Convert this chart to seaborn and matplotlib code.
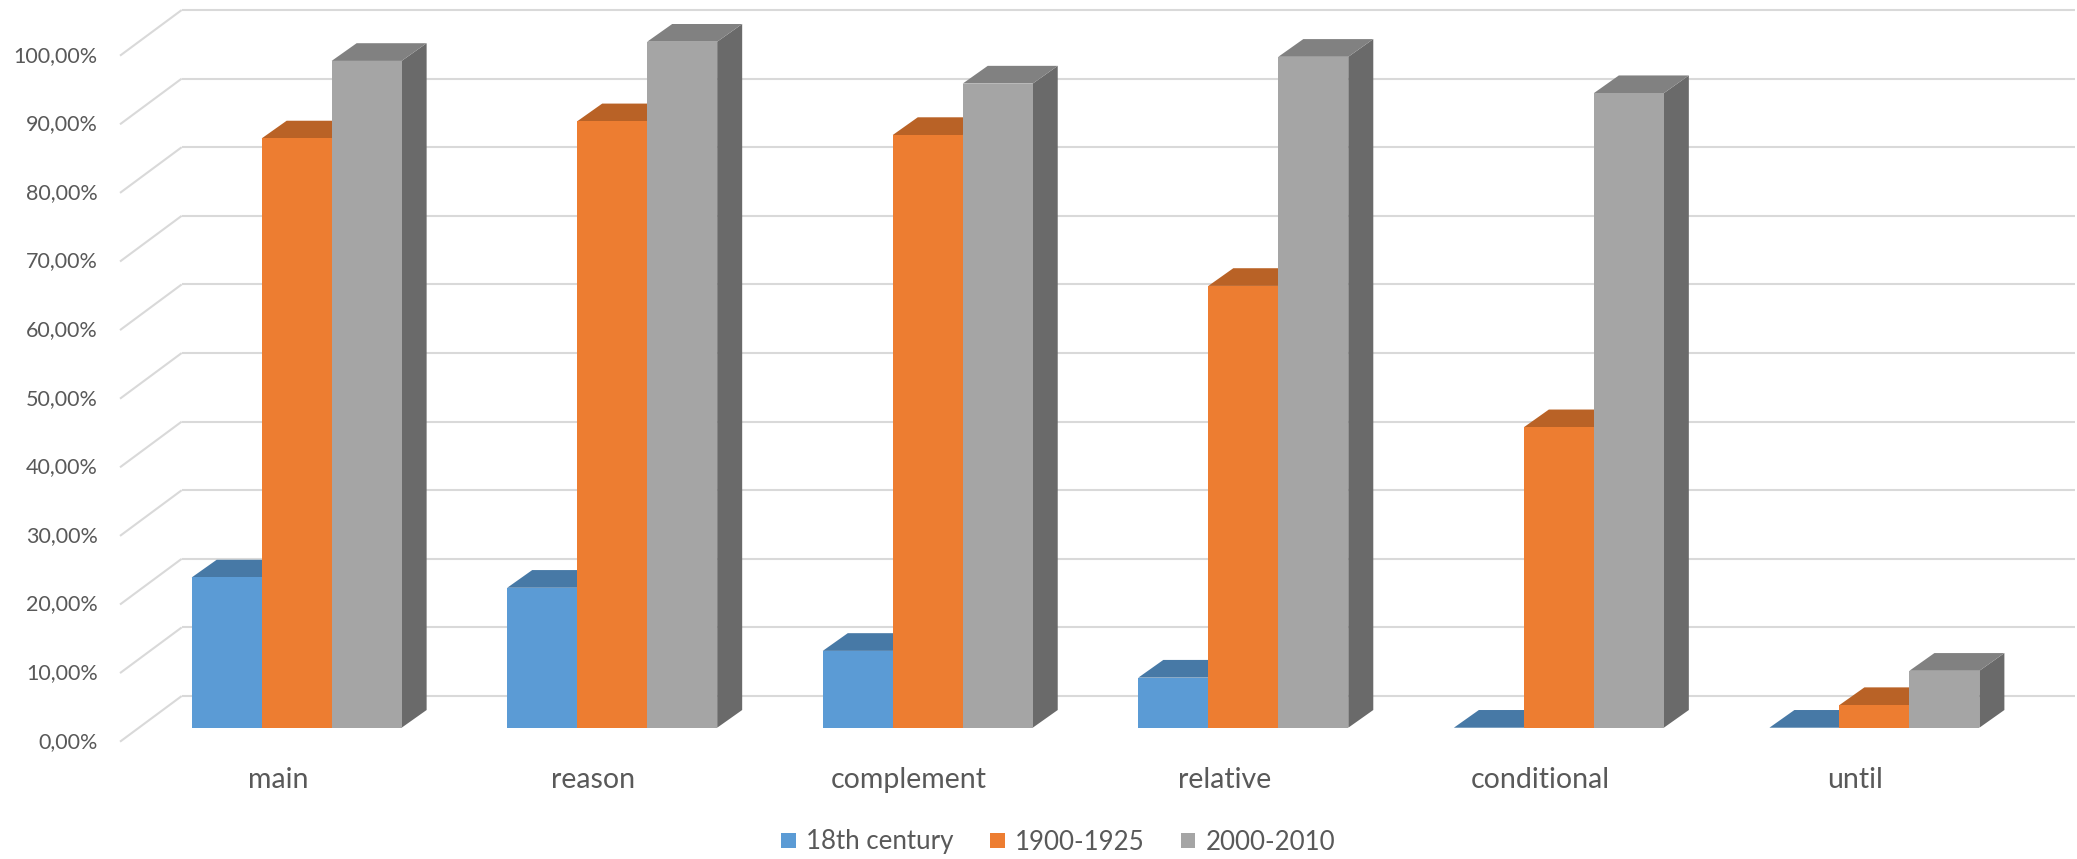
import numpy as np
import pandas as pd
import matplotlib
matplotlib.use("Agg")
import matplotlib.pyplot as plt
from matplotlib.patches import Polygon
import seaborn as sns

# ---- data -------------------------------------------------------------
clauses = ["main", "reason", "complement", "relative", "conditional", "until"]
periods = ["18th century", "1900-1925", "2000-2010"]
share_18th = [21.9, 20.4, 11.2, 7.3, 0.0, 0.0]
share_1900 = [85.9, 88.4, 86.4, 64.4, 43.8, 3.3]
share_2000 = [97.2, 100.0, 93.9, 97.8, 92.5, 8.3]
y_ticks = list(range(0, 101, 10))

colors = ["#5B9BD5", "#ED7D31", "#A5A5A5"]

# ---- style --------------------------------------------------------------
sns.set_theme(style="white")
plt.rcParams["font.family"] = ["Lato", "DejaVu Sans"]
TXT = "#595959"
GRID = "#D9D9D9"

df = pd.DataFrame({
    "clause": clauses * 3,
    "period": np.repeat(periods, len(clauses)),
    "share": share_18th + share_1900 + share_2000,
})

fig = plt.figure(figsize=(20.77, 8.59), dpi=100)
ax = fig.add_axes([0.05778, 0.13655, 0.94126, 0.85181])

sns.barplot(data=df, x="clause", y="share", hue="period", order=clauses,
            hue_order=periods, palette=colors, saturation=1, width=0.6654,
            gap=0, linewidth=0, ax=ax, zorder=3)

# oblique projection of the depth axis (category units, percent units)
FLOOR_DX, FLOOR_DY = 0.1955, 6.66     # full floor depth
FRONT_DX, FRONT_DY = 0.0598, 2.04     # floor front -> bar front
BAR_DX, BAR_DY = 0.0792, 2.58         # depth of one bar
x_left = -0.5 - FRONT_DX
x_right = len(clauses) - 0.5 + FLOOR_DX - FRONT_DX

ax.set_xlim(x_left, x_right)
ax.set_ylim(-FRONT_DY, 100 + FLOOR_DY - FRONT_DY + 0.001)

# back wall and side wall gridlines
back_x0 = x_left + FLOOR_DX
for v in y_ticks:
    yb = v + FLOOR_DY - FRONT_DY
    ax.plot([x_left, back_x0], [v - FRONT_DY, yb], color=GRID, lw=1.5,
            zorder=0.5, clip_on=False, solid_capstyle="butt")
    ax.plot([back_x0, x_right], [yb, yb], color=GRID, lw=1.5,
            zorder=0.5, clip_on=False, solid_capstyle="butt")
    ax.text(x_left - 0.07, v - FRONT_DY, f"{v:.2f}".replace(".", ",") + "%",
            ha="right", va="center", fontsize=15.5, color=TXT)

# category labels at the floor front edge
for i, name in enumerate(clauses):
    ax.text(i - FRONT_DX, -7.62, name, ha="center", va="center",
            fontsize=20.5, color=TXT, clip_on=False)


def shade(hex_color, f):
    r, g, b = matplotlib.colors.to_rgb(hex_color)
    return (r * f, g * f, b * f)


# top and side faces for each bar front drawn by seaborn
for k, cont in enumerate(ax.containers):
    for i, rect in enumerate(cont.patches):
        x, w, h = rect.get_x(), rect.get_width(), rect.get_height()
        order = 2 + (i * 3 + k) * 0.01
        rect.set_zorder(order + 0.005)
        base = colors[k]
        top = [(x, h), (x + w, h), (x + w + BAR_DX, h + BAR_DY), (x + BAR_DX, h + BAR_DY)]
        side = [(x + w, 0), (x + w + BAR_DX, BAR_DY), (x + w + BAR_DX, h + BAR_DY), (x + w, h)]
        ax.add_patch(Polygon(side, closed=True, facecolor=shade(base, 0.64),
                             edgecolor="none", zorder=order))
        ax.add_patch(Polygon(top, closed=True, facecolor=shade(base, 0.78),
                             edgecolor="none", zorder=order + 0.002))

ax.set_xticks([])
ax.set_yticks([])
ax.set_xlabel("")
ax.set_ylabel("")
sns.despine(ax=ax, left=True, bottom=True)
ax.patch.set_alpha(0)

handles, labels = ax.get_legend_handles_labels()
if ax.get_legend() is not None:
    ax.get_legend().remove()
fig.legend(handles, labels, loc="center", bbox_to_anchor=(1058 / 2077, 1 - 842 / 859),
           ncol=3, frameon=False, fontsize=18.6, handlelength=0.58, handleheight=0.515,
           handletextpad=0.39, columnspacing=1.4, labelcolor=TXT)

fig.savefig("out.png", dpi=100)
